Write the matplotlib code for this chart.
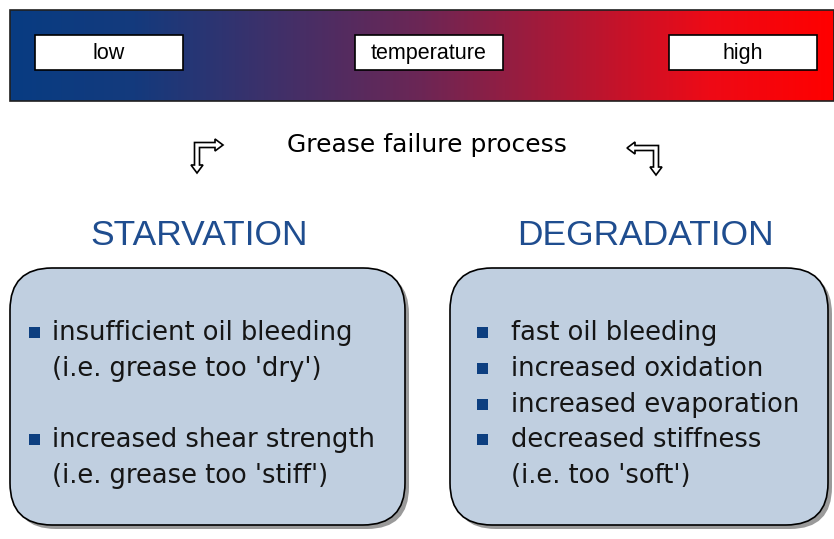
import numpy as np
import matplotlib
matplotlib.use("Agg")
import matplotlib.pyplot as plt
from matplotlib.colors import LinearSegmentedColormap
from matplotlib.patches import Rectangle, FancyBboxPatch, Polygon

plt.rcParams['font.family'] = ['Liberation Sans', 'DejaVu Sans']

# content
scale_labels = ["low", "temperature", "high"]
title = "Grease failure process"
headings = ["STARVATION", "DEGRADATION"]
starvation_items = ["insufficient oil bleeding", "(i.e. grease too 'dry')",
                    "increased shear strength", "(i.e. grease too 'stiff')"]
starvation_bullets = [True, False, True, False]
starvation_rows = [0, 1, 3, 4]
degradation_items = ["fast oil bleeding", "increased oxidation",
                     "increased evaporation", "decreased stiffness",
                     "(i.e. too 'soft')"]
degradation_bullets = [True, True, True, True, False]
degradation_rows = [0, 1, 2, 3, 4]

HEAD_BLUE = "#1f4d8f"
BULLET_BLUE = "#0d3f80"
BOX_FILL = "#c0cfe0"
BODY_FONT = ['DejaVu Sans']

W, H = 834, 539
fig = plt.figure(figsize=(W / 100, H / 100), dpi=100)
ax = fig.add_axes([0, 0, 1, 1])
ax.set_xlim(0, W)
ax.set_ylim(H, 0)
ax.axis("off")

# temperature gradient bar
cmap = LinearSegmentedColormap.from_list("temp", [
    (0.0, (8 / 255, 60 / 255, 130 / 255)),
    (0.15, (20 / 255, 58 / 255, 125 / 255)),
    (0.5, (108 / 255, 38 / 255, 85 / 255)),
    (0.85, (238 / 255, 10 / 255, 22 / 255)),
    (1.0, (1.0, 0.0, 0.0)),
])
grad = np.linspace(0, 1, 512)[None, :]
ax.imshow(grad, cmap=cmap, aspect="auto", extent=[10, W, 101, 10], zorder=1)
ax.add_patch(Rectangle((10, 10), W - 10, 91, fill=False, ec="#202020", lw=1.2, zorder=2))

box_x = [35, 355, 669]
for bx, lab in zip(box_x, scale_labels):
    ax.add_patch(Rectangle((bx, 35), 148, 35, fc="white", ec="black", lw=1.2, zorder=3))
    ax.text(bx + 74, 59, lab, ha="center", va="baseline", fontsize=15.5, zorder=4)

# title and bent arrows
ax.text(427, 152, title, ha="center", va="baseline", fontsize=18, family=BODY_FONT)


def elbow_arrow(cx, cy, tip_x, tip_y, w=2.5, h=6, L=8):
    sx = np.sign(tip_x - cx)
    pts = [(cx - sx * w, cy - w), (tip_x - sx * L, cy - w), (tip_x - sx * L, cy - h),
           (tip_x, cy), (tip_x - sx * L, cy + h), (tip_x - sx * L, cy + w),
           (cx + sx * w, cy + w), (cx + sx * w, tip_y - L), (cx + sx * h, tip_y - L),
           (cx, tip_y), (cx - sx * h, tip_y - L), (cx - sx * w, tip_y - L)]
    ax.add_patch(Polygon(pts, closed=True, fc="white", ec="black", lw=1.2, zorder=3))


elbow_arrow(197, 145, 223, 173)
elbow_arrow(656, 148, 627, 175)

# headings
ax.text(199, 245, headings[0], ha="center", va="baseline", fontsize=25.5, color=HEAD_BLUE)
ax.text(645, 245, headings[1], ha="center", va="baseline", fontsize=25.5, color=HEAD_BLUE)

# rounded boxes with shadow
panels = [(10, 268, 395, 257), (450, 268, 378, 257)]
for (px, py, pw, ph) in panels:
    ax.add_patch(FancyBboxPatch((px + 4, py + 4), pw, ph,
                                boxstyle="round,pad=0,rounding_size=42",
                                fc="#9a9a9a", ec="none", zorder=1))
    ax.add_patch(FancyBboxPatch((px, py), pw, ph,
                                boxstyle="round,pad=0,rounding_size=42",
                                fc=BOX_FILL, ec="black", lw=1.2, zorder=2))


def bullet_list(items, bullets, rows, text_x, bullet_x, y0, dy):
    for item, b, r in zip(items, bullets, rows):
        y = y0 + r * dy
        if b:
            ax.add_patch(Rectangle((bullet_x, y - 13), 11, 11, fc=BULLET_BLUE, ec="none", zorder=3))
        ax.text(text_x, y, item, ha="left", va="baseline", fontsize=18.5,
                color="#151515", family=BODY_FONT, zorder=4)


bullet_list(starvation_items, starvation_bullets, starvation_rows, 52, 29, 340, 35.8)
bullet_list(degradation_items, degradation_bullets, degradation_rows, 511, 477, 340, 35.8)

fig.savefig("out.png", dpi=100)
